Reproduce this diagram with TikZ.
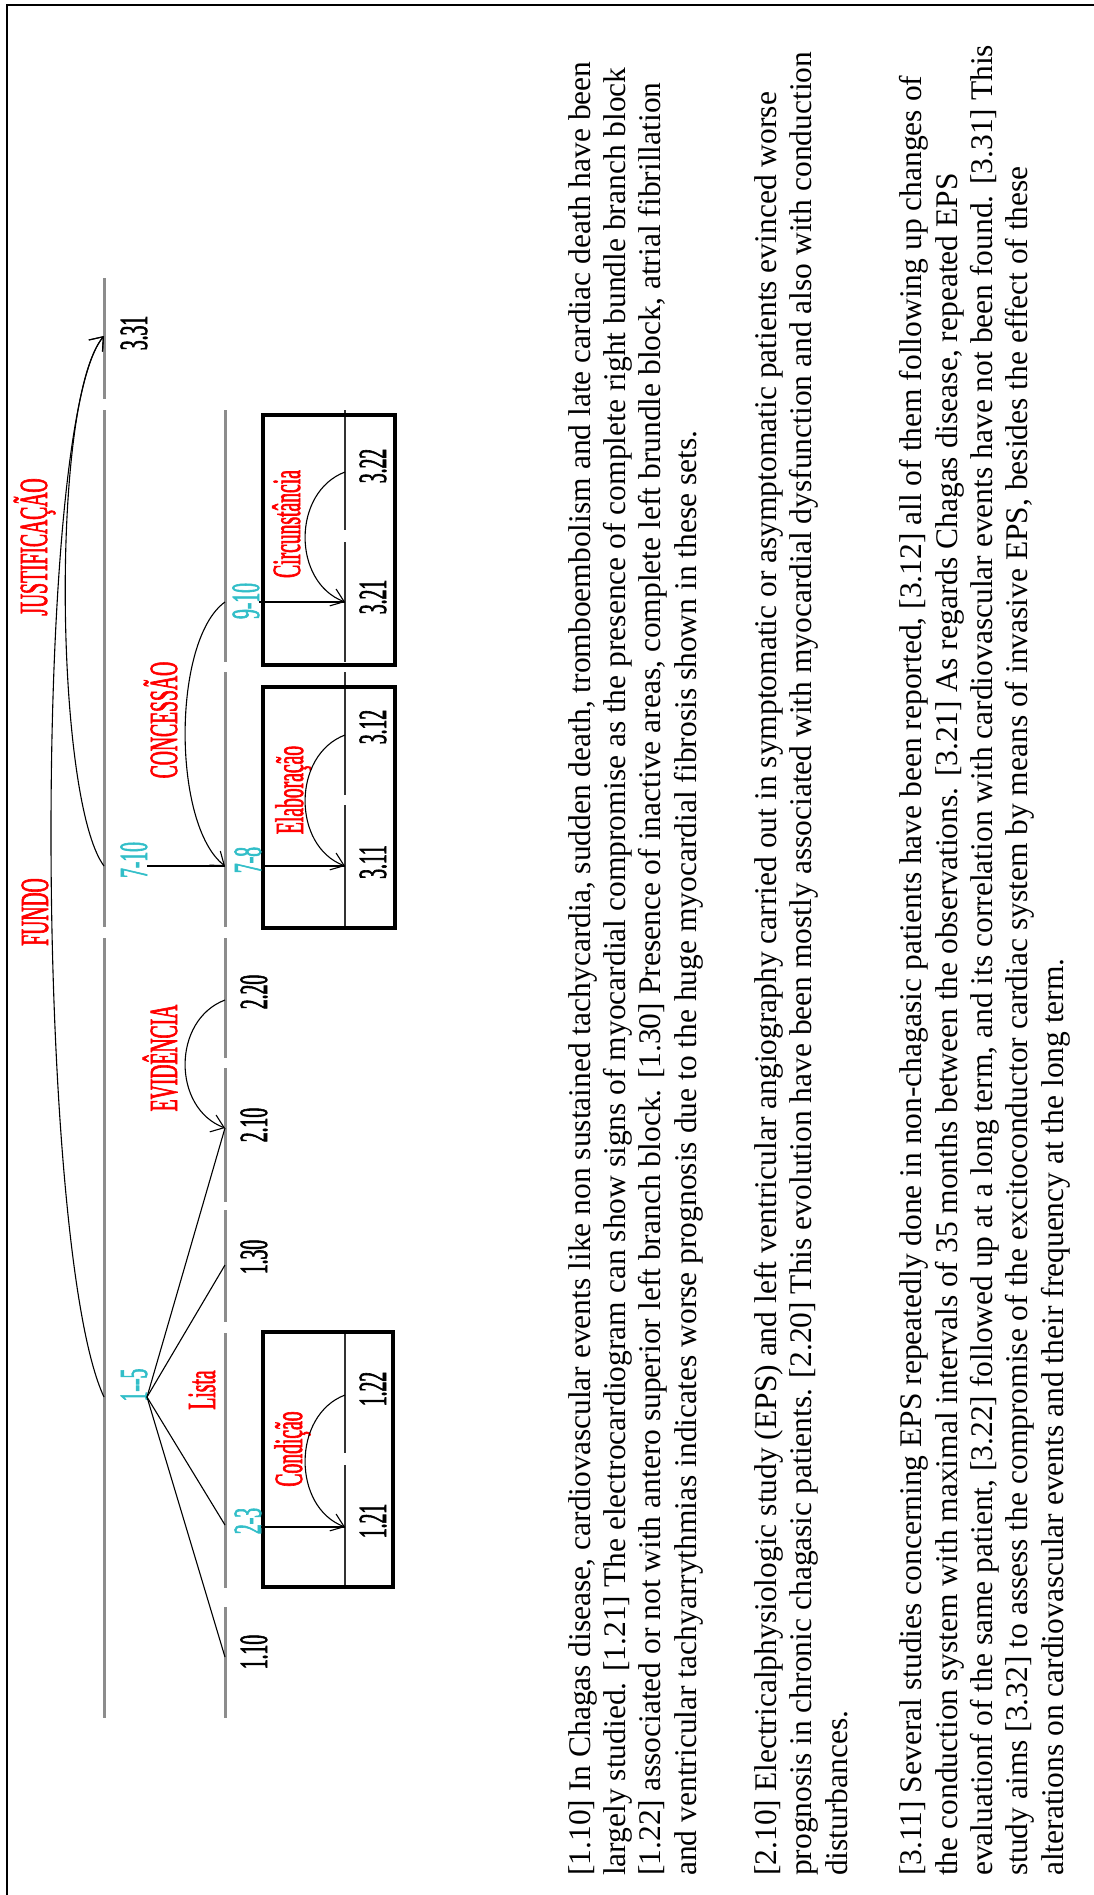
\documentclass[tikz,border=0pt]{standalone}
\usepackage{fontspec}
\setmainfont{Liberation Serif}
\newfontfamily\narrowserif[FakeStretch=0.49,FakeBold=1.5]{Liberation Serif}
\usetikzlibrary{arrows.meta}

\definecolor{relred}{RGB}{255,0,0}
\definecolor{spancyan}{RGB}{50,190,200}
\definecolor{bargray}{RGB}{140,140,140}

\tikzset{
  bar/.style={draw=bargray, line width=3pt},
  subbar/.style={draw=black!80, line width=1.2pt},
  link/.style={draw=black, line width=1.1pt},
  relarc/.style={link, -{Straight Barb[length=12pt,width=18pt]}},
  segbox/.style={draw=black, line width=4.5pt},
  tag/.style={rotate=90, anchor=base, inner sep=0pt,
    font=\narrowserif\fontsize{40}{40}\selectfont},
  reltag/.style={tag, text=relred},
  spantag/.style={tag, text=spancyan},
  para/.style={rotate=90, anchor=base west, align=left, inner sep=0pt,
    font=\fontsize{31.5}{35.3}\selectfont}
}

\begin{document}
\begin{tikzpicture}[x=1pt, y=-1pt]
\useasboundingbox (0,0) rectangle (1093,1895);
\draw[line width=2.5pt] (7,5) rectangle (1120,1920);

% span bars
\draw[bar] (104,278) -- (104,399);
\draw[bar] (104,410) -- (104,927);
\draw[bar] (104,938) -- (104,1718);
\foreach \a/\b in {410/662, 672/927, 938/1058, 1068/1202, 1210/1322, 1333/1588, 1607/1718}
  \draw[bar] (225,\a) -- (225,\b);
\foreach \a/\b in {410/530, 542/662, 672/795, 805/927, 1333/1453, 1465/1588}
  \draw[subbar] (345,\a) -- (345,\b);

% boxed segments
\draw[segbox] (263,415) rectangle (395,665);
\draw[segbox] (263,687) rectangle (395,928);
\draw[segbox] (263,1332) rectangle (393,1587);

% attachment points
\coordinate (s331) at (104,336);
\coordinate (s710) at (104,866);
\coordinate (s15) at (104,1397);
\coordinate (s910) at (225,602);
\coordinate (s78) at (225,866);
\coordinate (s220) at (225,1000);
\coordinate (s210) at (225,1128);
\coordinate (s130) at (225,1265);
\coordinate (s23) at (225,1525);
\coordinate (s110) at (225,1657);
\coordinate (s322) at (345,472);
\coordinate (s321) at (345,602);
\coordinate (s312) at (345,735);
\coordinate (s311) at (345,866);
\coordinate (s122) at (345,1395);
\coordinate (s121) at (345,1527);

% segment numbers
\node[tag] (t331) at (147,333) {3.31};
\node[tag] (t322) at (386,466) {3.22};
\node[tag] (t321) at (386,597) {3.21};
\node[tag] (t312) at (386,727) {3.12};
\node[tag] (t311) at (386,862) {3.11};
\node[tag] (t220) at (267,992) {2.20};
\node[tag] (t210) at (267,1125) {2.10};
\node[tag] (t130) at (267,1257) {1.30};
\node[tag] (t122) at (386,1389) {1.22};
\node[tag] (t121) at (386,1521) {1.21};
\node[tag] (t110) at (267,1652) {1.10};

% span labels
\node[spantag] (c710) at (147,860) {7-10};
\node[spantag] (c78) at (261,860) {7-8};
\node[spantag] (c910) at (259,601) {9-10};
\node[spantag] (c15) at (147,1385) {1--5};
\node[spantag] (c23) at (261,1521) {2-3};

% relation names
\node[reltag] (rjust) at (47,547) {JUSTIFICAÇÃO};
\node[reltag] (rfundo) at (48,912) {FUNDO};
\node[reltag] (rconc) at (177,720) {CONCESSÃO};
\node[reltag] (revid) at (177,1058) {EVIDÊNCIA};
\node[reltag] (rlista) at (215,1390) {Lista};
\node[reltag] (rcirc) at (300,524) {Circunstância};
\node[reltag] (relab) at (303,790) {Elaboração};
\node[reltag] (rcond) at (302,1449) {Condição};

% span links
\draw[link] (c710.base |- s78) -- (s78);
\draw[link] (c78.base |- s311) -- (s311);
\draw[link] (c910.base |- s321) -- (s321);
\draw[link] (c23.base |- s121) -- (s121);
\foreach \t in {s210, s130, s23, s110}
  \draw[link] (c15.base |- s15) -- (\t);

% relation arcs
\draw[relarc] (s710) .. controls (55,800) and (50,400) .. (s331);
\draw[relarc] (s15) .. controls (35,1250) and (32,420) .. (s331);
\draw[relarc] (s910) .. controls (172,640) and (172,825) .. (s78);
\draw[relarc] (s220) .. controls +(-53,20) and +(-53,-20) .. (s210);
\draw[relarc] (s322) .. controls +(-53,20) and +(-53,-20) .. (s321);
\draw[relarc] (s312) .. controls +(-53,20) and +(-53,-20) .. (s311);
\draw[relarc] (s122) .. controls +(-53,20) and +(-53,-20) .. (s121);

% text of the segments (anchored on the last line)
\node[para] (p1) at (696,1876) {[1.10] In Chagas disease, cardiovascular events like non sustained tachycardia, sudden death, tromboembolism and late cardiac death have been\\
largely studied. [1.21] The electrocardiogram can show signs of myocardial compromise as the presence of complete right bundle branch block\\{}%
[1.22] associated or not with antero superior left branch block. [1.30] Presence of inactive areas, complete left brundle block, atrial fibrillation\\
and ventricular tachyarrythmias indicates worse prognosis due to the huge myocardial fibrosis shown in these sets.};
\node[para] (p2) at (847,1876) {[2.10] Electricalphysiologic study (EPS) and left ventricular angiography carried out in symptomatic or asymptomatic patients evinced worse\\
prognosis in chronic chagasic patients. [2.20] This evolution have been mostly associated with myocardial dysfunction and also with conduction\\
disturbances.};
\node[para] (p3) at (1063,1876) {[3.11] Several studies concerning EPS repeatedly done in non-chagasic patients have been reported, [3.12] all of them following up changes of\\
the conduction system with maximal intervals of 35 months between the observations. [3.21] As regards Chagas disease, repeated EPS\\
evaluationf of the same patient, [3.22] followed up at a long term, and its correlation with cardiovascular events have not been found. [3.31] This\\
study aims [3.32] to assess the compromise of the excitoconductor cardiac system by means of invasive EPS, besides the effect of these\\
alterations on cardiovascular events and their frequency at the long term.};
\end{tikzpicture}
\end{document}
